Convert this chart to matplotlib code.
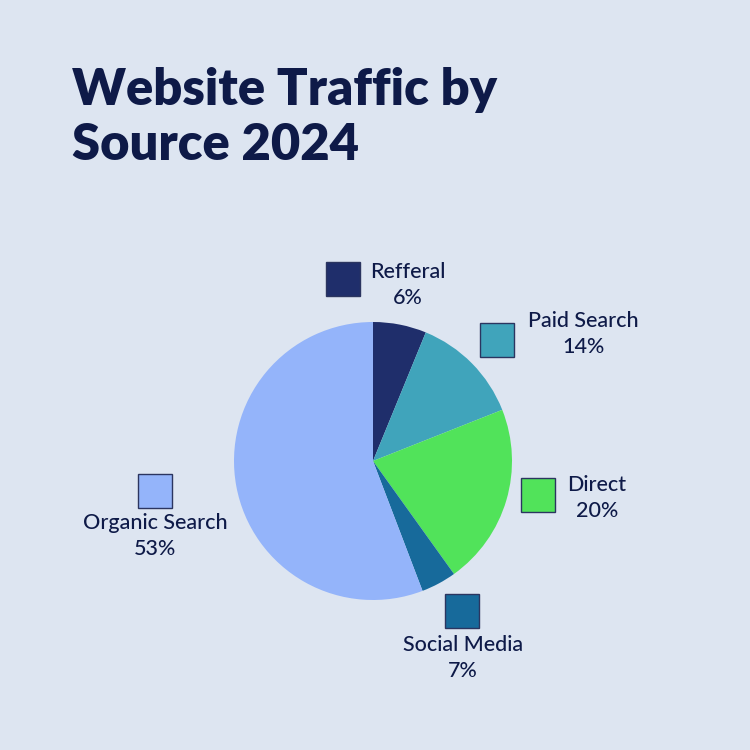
import matplotlib
matplotlib.use("Agg")
import matplotlib.pyplot as plt
from matplotlib.patches import Rectangle

# data
sources = ['Refferal', 'Paid Search', 'Direct', 'Social Media', 'Organic Search']
shares = [6.2, 12.8, 21.1, 4.1, 55.8]          # slice sizes as drawn
labels_pct = ['6%', '14%', '20%', '7%', '53%']   # printed labels
colors = ['#1f2e6b', '#40a4bb', '#51e35a', '#176a9b', '#94b4fa']

bg = '#dde5f1'
ink = '#0e1a48'

# label layout (pixel coords, y from top): square x, square y, text x, text y
sq_pos = [(326, 262), (480, 323), (521, 478), (445, 594), (138, 474)]
txt_pos = [(408, 272), (583, 321), (597, 485), (463, 645), (155, 523)]

fig = plt.figure(figsize=(7.5, 7.5), dpi=100)
fig.patch.set_facecolor(bg)
ax = fig.add_axes([0, 0, 1, 1])

H = 750
ax.pie(shares, colors=colors, startangle=90, counterclock=False,
       center=(373, H - 461), radius=139,
       wedgeprops=dict(linewidth=0))
ax.set_xlim(0, 750)
ax.set_ylim(0, 750)
ax.set_aspect('equal')
ax.axis('off')

font = 'Lato'
for i in range(len(sources)):
    sx, sy = sq_pos[i]
    ax.add_patch(Rectangle((sx, H - sy - 34), 34, 34, facecolor=colors[i],
                           edgecolor='#2b3560', linewidth=1.0))
    tx, ty = txt_pos[i]
    ax.text(tx, H - ty, sources[i], ha='center', va='center',
            fontsize=15.5, fontweight='medium', color=ink, family=font)
    ax.text(tx, H - ty - 26, labels_pct[i], ha='center', va='center',
            fontsize=15.5, fontweight='medium', color=ink, family=font)

fig.text(72 / 750, 1 - 105 / 750, 'Website Traffic by', ha='left',
         va='baseline', fontsize=36.5, fontweight='heavy', color=ink,
         family=font)
fig.text(72 / 750, 1 - 160 / 750, 'Source 2024', ha='left',
         va='baseline', fontsize=36.5, fontweight='heavy', color=ink,
         family=font)

plt.savefig('out.png', dpi=100, facecolor=bg)
